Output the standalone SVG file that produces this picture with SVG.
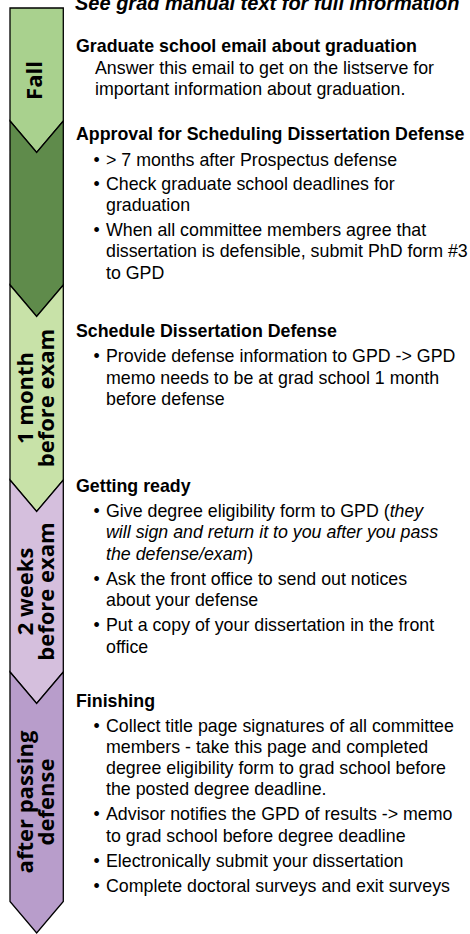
<svg xmlns="http://www.w3.org/2000/svg" width="470" height="934" viewBox="0 0 470 934">
<style>
.chev{stroke:#000;stroke-width:1.3;stroke-linejoin:miter}
.lab{font-family:"Open Sans","DejaVu Sans",sans-serif;font-weight:bold;font-size:22px;fill:#000;text-anchor:middle}
.t{font-family:"Liberation Sans",Arial,sans-serif;font-size:17.8px;fill:#000}
.h{font-weight:bold}
.i{font-style:italic}
.title{font-family:"Liberation Sans",Arial,sans-serif;font-size:20px;font-weight:bold;font-style:italic;fill:#000}
</style>
<rect width="470" height="934" fill="#fff"/>
<text class="title" x="75" y="10">See grad manual text for full information</text>

<g id="stage-fall">
<path class="chev" fill="#a9d18e" d="M10,8 L63.3,8 L63.3,121 L36.65,152.5 L10,121 Z"/>
<text class="lab" transform="translate(42,80.5) rotate(-90)">Fall</text>
</g>
<g id="stage-approval">
<path class="chev" fill="#5f8b4b" d="M10,121 L36.65,152.5 L63.3,121 L63.3,285 L36.65,316.5 L10,285 Z"/>
</g>
<g id="stage-1month">
<path class="chev" fill="#c8e2a8" d="M10,285 L36.65,316.5 L63.3,285 L63.3,480 L36.65,511.5 L10,480 Z"/>
<text class="lab" transform="translate(33,398) rotate(-90)">1 month</text>
<text class="lab" transform="translate(53.5,398) rotate(-90)">before exam</text>
</g>
<g id="stage-2weeks">
<path class="chev" fill="#d5bfdd" d="M10,480 L36.65,511.5 L63.3,480 L63.3,672 L36.65,703.5 L10,672 Z"/>
<text class="lab" transform="translate(33,591.5) rotate(-90)">2 weeks</text>
<text class="lab" transform="translate(53.5,591.5) rotate(-90)">before exam</text>
</g>
<g id="stage-after">
<path class="chev" fill="#b89dcb" d="M10,672 L36.65,703.5 L63.3,672 L63.3,901.5 L36.65,933 L10,901.5 Z"/>
<text class="lab" transform="translate(33,802) rotate(-90)">after passing</text>
<text class="lab" transform="translate(53.5,802) rotate(-90)">defense</text>
</g>

<g id="text-graduate-email" class="t">
<text class="h" x="76" y="52">Graduate school email about graduation</text>
<text x="95" y="73.5">Answer this email to get on the listserve for</text>
<text x="95" y="95">important information about graduation.</text>
</g>

<g id="text-approval" class="t">
<text class="h" x="76" y="140">Approval for Scheduling Dissertation Defense</text>
<text x="93.5" y="165.5">•</text><text x="106" y="165.5">&gt; 7 months after Prospectus defense</text>
<text x="93.5" y="190">•</text><text x="106" y="190">Check graduate school deadlines for</text>
<text x="106" y="211">graduation</text>
<text x="93.5" y="235.5">•</text><text x="106" y="235.5">When all committee members agree that</text>
<text x="106" y="257">dissertation is defensible, submit PhD form #3</text>
<text x="106" y="278.5">to GPD</text>
</g>

<g id="text-schedule" class="t">
<text class="h" x="76" y="337">Schedule Dissertation Defense</text>
<text x="93.5" y="362.3">•</text><text x="106" y="362.3">Provide defense information to GPD -&gt; GPD</text>
<text x="106" y="383.6">memo needs to be at grad school 1 month</text>
<text x="106" y="405">before defense</text>
</g>

<g id="text-getting-ready" class="t">
<text class="h" x="76" y="491.7">Getting ready</text>
<text x="93.5" y="517">•</text><text x="106" y="517">Give degree eligibility form to GPD (<tspan class="i">they</tspan></text>
<text x="106" y="538.3" class="i">will sign and return it to you after you pass</text>
<text x="106" y="559.5"><tspan class="i">the defense/exam</tspan>)</text>
<text x="93.5" y="584.8">•</text><text x="106" y="584.8">Ask the front office to send out notices</text>
<text x="106" y="606">about your defense</text>
<text x="93.5" y="631.2">•</text><text x="106" y="631.2">Put a copy of your dissertation in the front</text>
<text x="106" y="652.5">office</text>
</g>

<g id="text-finishing" class="t">
<text class="h" x="76" y="706.7">Finishing</text>
<text x="93.5" y="731.7">•</text><text x="106" y="731.7">Collect title page signatures of all committee</text>
<text x="106" y="752.9">members - take this page and completed</text>
<text x="106" y="774.1">degree eligibility form to grad school before</text>
<text x="106" y="795.3">the posted degree deadline.</text>
<text x="93.5" y="820.3">•</text><text x="106" y="820.3">Advisor notifies the GPD of results -&gt; memo</text>
<text x="106" y="841.5">to grad school before degree deadline</text>
<text x="93.5" y="866.7">•</text><text x="106" y="866.7">Electronically submit your dissertation</text>
<text x="93.5" y="891.7">•</text><text x="106" y="891.7">Complete doctoral surveys and exit surveys</text>
</g>
</svg>
